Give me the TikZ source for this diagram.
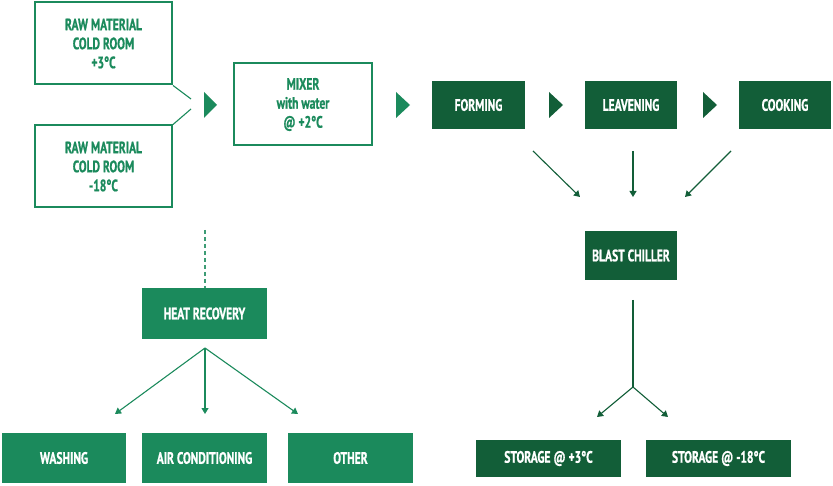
\documentclass[tikz,border=0pt]{standalone}
\usepackage{fontspec}
\setmainfont{PT Sans}[FakeStretch=0.7, BoldFeatures={FakeBold=0.8}]
\usetikzlibrary{arrows.meta}
\definecolor{lg}{HTML}{1B8A5C}
\definecolor{dg}{HTML}{125E38}
\tikzset{
  base/.style={rectangle, inner sep=0pt, align=center, font=\fontsize{16.5}{19}\selectfont\bfseries},
  outl/.style={base, draw=lg, line width=2pt, text=lg},
  lbox/.style={base, fill=lg, text=white},
  dbox/.style={base, fill=dg, text=white},
  arr/.style={line width=1.1pt, draw=#1, -{Triangle[width=7pt,length=6pt]}},
  thin/.style={line width=1.1pt, draw=#1},
}
\begin{document}
\begin{tikzpicture}[x=1pt,y=-1pt]
\useasboundingbox (0,0) rectangle (833,486);
% outline boxes
\node[outl, minimum width=137, minimum height=82] (rm1) at (103.5,43.5) {RAW MATERIAL\\COLD ROOM\\+3°C};
\node[outl, minimum width=137, minimum height=82] (rm2) at (103.5,166.5) {RAW MATERIAL\\COLD ROOM\\-18°C};
\node[outl, minimum width=138, minimum height=82] (mix) at (303,104.5) {MIXER\\with water\\@ +2°C};
% dark boxes
\node[dbox, minimum width=93, minimum height=48] (form) at (478.5,105) {FORMING};
\node[dbox, minimum width=92, minimum height=48] (leav) at (631,105) {LEAVENING};
\node[dbox, minimum width=92, minimum height=48] (cook) at (785,105) {COOKING};
\node[dbox, minimum width=92, minimum height=49] (blast) at (631,255.5) {BLAST CHILLER};
\node[dbox, minimum width=145, minimum height=37] (st3) at (548.5,458.5) {STORAGE @ +3°C};
\node[dbox, minimum width=145, minimum height=37] (st18) at (718.5,458.5) {STORAGE @ -18°C};
% light boxes
\node[lbox, minimum width=125, minimum height=51] (heat) at (204.5,313.5) {HEAT RECOVERY};
\node[lbox, minimum width=124, minimum height=50] (wash) at (64,458) {WASHING};
\node[lbox, minimum width=125, minimum height=50] (air) at (204.5,458) {AIR CONDITIONING};
\node[lbox, minimum width=125, minimum height=50] (oth) at (350.5,458) {OTHER};
% triangles
\fill[lg] (204,92) -- (217,105) -- (204,118) -- cycle;
\fill[lg] (396,92) -- (410,105) -- (396,118) -- cycle;
\fill[dg] (549,92) -- (563,105) -- (549,118) -- cycle;
\fill[dg] (703,92) -- (717,105) -- (703,118) -- cycle;
% raw material joins
\coordinate (j1) at (191,99);
\coordinate (j2) at (191,109);
\draw[thin=lg] (rm1.south east) -- (j1);
\draw[thin=lg] (rm2.north east) -- (j2);
% to blast chiller
\coordinate (f1) at (533,151);
\coordinate (f2) at (633,151);
\coordinate (f3) at (731,151);
\coordinate (b1) at (580,197);
\coordinate (b2) at (633,197);
\coordinate (b3) at (685,197);
\draw[arr=dg] (f1) -- (b1);
\draw[arr=dg] (f2) -- (b2);
\draw[arr=dg] (f3) -- (b3);
% blast chiller to storage
\coordinate (s0) at (633,300);
\coordinate (sj) at (633,387);
\coordinate (sa) at (597,417);
\coordinate (sb) at (668,417);
\draw[thin=dg] (s0) -- (sj);
\draw[arr=dg] (sj) -- (sa);
\draw[arr=dg] (sj) -- (sb);
% heat recovery
\coordinate (d0) at (205,230);
\draw[line width=1.5pt, lg!85, dash pattern=on 4pt off 3pt] (d0) -- (heat.north -| d0);
\coordinate (h0) at (205,348);
\coordinate (ha) at (115,414);
\coordinate (hb) at (205,414);
\coordinate (hc) at (298,414);
\draw[arr=lg] (h0) -- (ha);
\draw[arr=lg] (h0) -- (hb);
\draw[arr=lg] (h0) -- (hc);
\end{tikzpicture}
\end{document}
